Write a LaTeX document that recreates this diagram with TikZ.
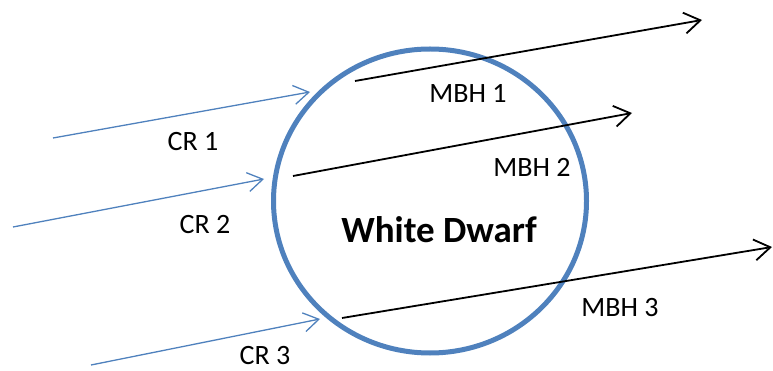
\documentclass[tikz,border=0pt]{standalone}
\usepackage{fontspec}
\setmainfont{Carlito}
\usetikzlibrary{arrows.meta,shapes.geometric}
\definecolor{wdblue}{HTML}{4F81BD}
\tikzset{
  crarrow/.style={draw=wdblue, line width=1.3pt, -{Straight Barb[length=15pt,width=19pt,line width=1.3pt]}},
  mbharrow/.style={draw=black, line width=1.8pt, -{Straight Barb[length=16pt,width=21pt,line width=1.8pt]}},
  lbl/.style={font=\fontsize{28}{32}\selectfont, inner sep=0pt},
  star/.style={draw=wdblue, line width=5pt, ellipse, minimum width=313pt, minimum height=304pt, inner sep=0pt}
}
\begin{document}
\begin{tikzpicture}[x=1pt,y=-1pt]
\useasboundingbox (0,0) rectangle (773,371);
\node[star] (wd) at (430,201) {};
\node[font=\fontsize{37}{41}\selectfont\bfseries, inner sep=0pt] (wdlabel) at (439,230) {White Dwarf};
% cosmic rays
\coordinate (cr1s) at (53,138);  \coordinate (cr1e) at (310,92);
\coordinate (cr2s) at (13,227);  \coordinate (cr2e) at (264,179);
\coordinate (cr3s) at (91,365);  \coordinate (cr3e) at (320,319);
\draw[crarrow] (cr1s) -- (cr1e);
\draw[crarrow] (cr2s) -- (cr2e);
\draw[crarrow] (cr3s) -- (cr3e);
% MBH tracks
\coordinate (m1s) at (355,81);  \coordinate (m1e) at (702,20);
\coordinate (m2s) at (293,176); \coordinate (m2e) at (632,113);
\coordinate (m3s) at (342,318); \coordinate (m3e) at (772,247);
\draw[mbharrow] (m1s) -- (m1e);
\draw[mbharrow] (m2s) -- (m2e);
\draw[mbharrow] (m3s) -- (m3e);
% labels
\node[lbl] (lcr1) at (193,142) {CR 1};
\node[lbl] (lcr2) at (205,225) {CR 2};
\node[lbl] (lcr3) at (265,356) {CR 3};
\node[lbl] (lm1) at (468,93) {MBH 1};
\node[lbl] (lm2) at (532,167) {MBH 2};
\node[lbl] (lm3) at (620,308) {MBH 3};
\end{tikzpicture}
\end{document}
